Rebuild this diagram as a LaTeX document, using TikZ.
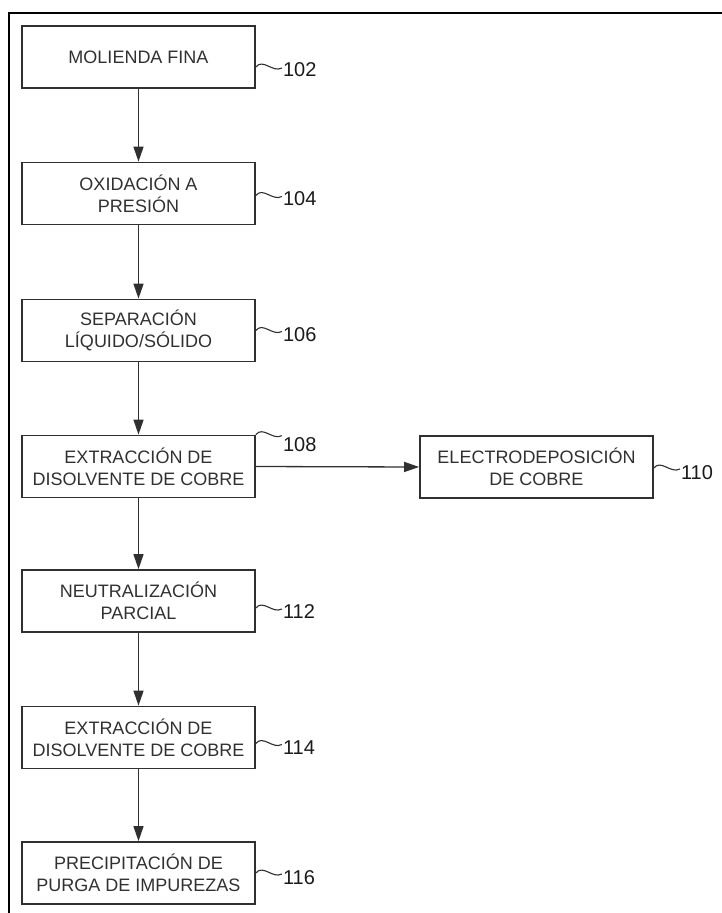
\documentclass[tikz,border=0pt]{standalone}
\usepackage{fontspec}
\setmainfont{Liberation Sans}
\usetikzlibrary{arrows.meta}
\definecolor{ink}{HTML}{303030}
\definecolor{numink}{HTML}{1A1A1A}
\begin{document}
\begin{tikzpicture}[x=1pt,y=-1pt,
 stepbox/.style={draw=ink, line width=1.7pt, minimum width=233pt, minimum height=62pt, inner sep=0pt, align=center, text=ink, font=\fontsize{18}{22}\selectfont},
 flow/.style={draw=ink, line width=1.3pt, -{Triangle[length=15pt,width=10pt]}},
 tilde/.style={draw=ink, line width=1.1pt},
 lbl/.style={text=numink, font=\fontsize{20}{20}\selectfont, inner sep=0pt, anchor=west}]
\useasboundingbox (0,0) rectangle (722,913);
% frame
\draw[line width=2.4pt, black] (9,913) -- (9,13) -- (722,13);
% boxes
\node[stepbox] (b102) at (138.5,57) {MOLIENDA FINA};
\node[stepbox] (b104) at (138.5,193.5) {OXIDACIÓN A\\PRESIÓN};
\node[stepbox] (b106) at (138.5,330.5) {SEPARACIÓN\\LÍQUIDO/SÓLIDO};
\node[stepbox] (b108) at (138.5,466.5) {EXTRACCIÓN DE\\DISOLVENTE DE COBRE};
\node[stepbox] (b110) at (536.5,467) {ELECTRODEPOSICIÓN\\DE COBRE};
\node[stepbox] (b112) at (138.5,601) {NEUTRALIZACIÓN\\PARCIAL};
\node[stepbox] (b114) at (138.5,737.5) {EXTRACCIÓN DE\\DISOLVENTE DE COBRE};
\node[stepbox] (b116) at (138.5,873) {PRECIPITACIÓN DE\\PURGA DE IMPUREZAS};
% arrows
\draw[flow] (b102.south) -- (b104.north);
\draw[flow] (b104.south) -- (b106.north);
\draw[flow] (b106.south) -- (b108.north);
\draw[flow] (b108.east) -- (b110.west);
\draw[flow] (b108.south) -- (b112.north);
\draw[flow] (b112.south) -- (b114.north);
\draw[flow] (b114.south) -- (b116.north);
% reference labels
\coordinate (t102) at ([yshift=-10pt]b102.east);
\coordinate (t104) at ([yshift=-2pt]b104.east);
\coordinate (t106) at ([yshift=0pt]b106.east);
\coordinate (t108) at (b108.north east);
\coordinate (t110) at ([yshift=-1pt]b110.east);
\coordinate (t112) at ([yshift=-7pt]b112.east);
\coordinate (t114) at ([yshift=-6pt]b114.east);
\coordinate (t116) at ([yshift=0pt]b116.east);
\foreach \n/\dy in {102/-3,104/-3,106/-4,108/-10,110/-5,112/-4,114/-4,116/-5}{
  \node[lbl] (l\n) at ([xshift=27pt,yshift=\dy pt]t\n) {\n};
  \draw[tilde] (t\n) .. controls +(7,-9) and +(-9,5) .. ([xshift=26pt,yshift=-1pt]t\n);
}
\end{tikzpicture}
\end{document}
